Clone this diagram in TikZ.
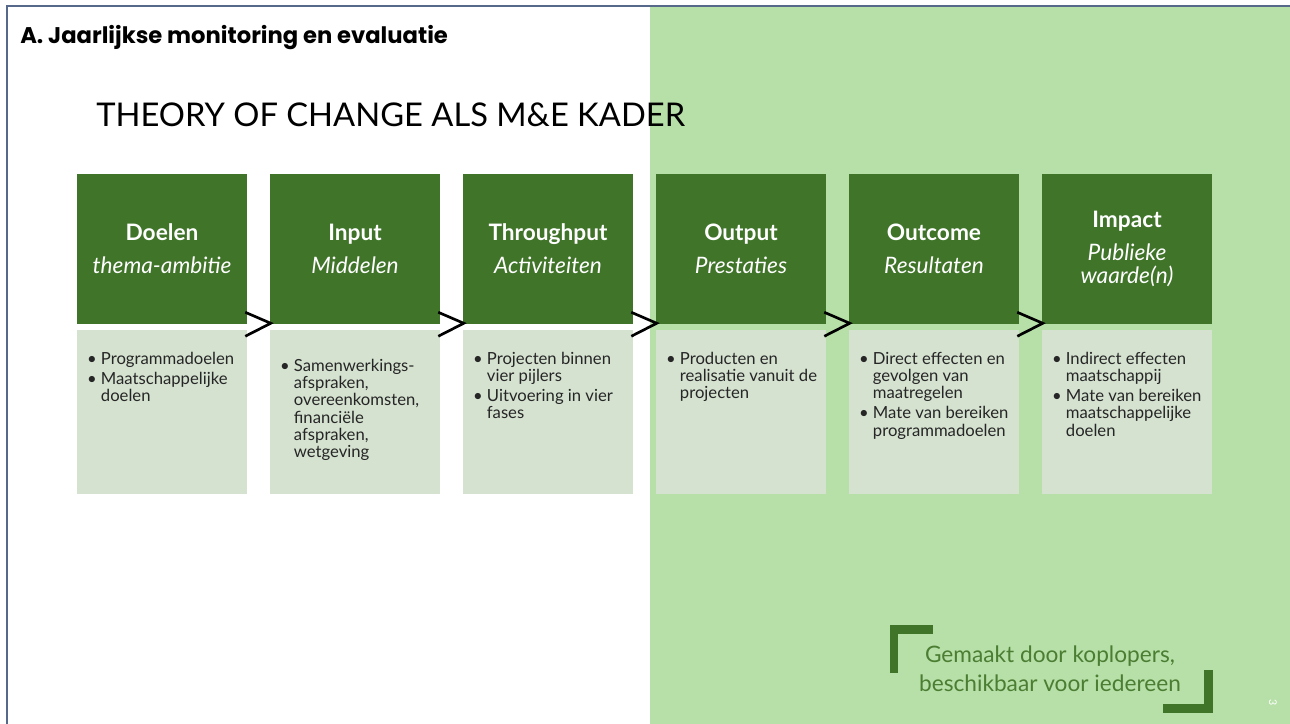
\documentclass[tikz,border=0pt]{standalone}
\usepackage{fontspec}
\setmainfont{Lato}
\newfontfamily\popp{Poppins}
\usetikzlibrary{calc}
\definecolor{dkgreen}{HTML}{3F7429}
\definecolor{ltbox}{HTML}{D5E2D0}
\definecolor{panel}{HTML}{B7E0A8}
\definecolor{bordercol}{HTML}{56698A}
\definecolor{quotegreen}{HTML}{4B7D33}
\tikzset{
  darkbox/.style={fill=dkgreen, minimum width=127.5pt, minimum height=112.5pt, inner sep=0pt, text=white, align=center, font=\fontsize{17}{17.3}\selectfont},
  lightbox/.style={fill=ltbox, minimum width=127.5pt, minimum height=123pt, inner sep=0pt},
  listtext/.style={anchor=north west, align=left, inner sep=0pt, text=black!85, font=\fontsize{12.5}{13}\selectfont},
  chev/.style={draw=black, line width=2pt},
  bracket/.style={fill=dkgreen, draw=none}
}
\newcommand{\bl}{\textbullet\ }
\newcommand{\bh}{\hphantom{\textbullet\ }}
\begin{document}
\begin{tikzpicture}[x=0.75pt,y=-0.75pt]
\useasboundingbox (0,0) rectangle (1290,724);
\fill[white] (0,0) rectangle (1290,724);
\fill[panel] (650,7) rectangle (1290,724);
\draw[bordercol, line width=1.5pt] (6.5,724) -- (6.5,6.5) -- (1290,6.5);

\node[anchor=base west, inner sep=0pt, font=\popp\fontsize{17}{19}\selectfont\bfseries] (head) at (20,44) {A. Jaarlijkse monitoring en evaluatie};
\node[anchor=west, inner sep=0pt, font=\fontsize{24.5}{28}\selectfont] (title) at (96,115) {THEORY OF CHANGE ALS M\&E KADER};

% dark boxes
\node[darkbox] (d1) at (162,249) {\textbf{Doelen}\\[7.5pt]\textit{thema-ambitie}};
\node[darkbox] (d2) at (355,249) {\textbf{Input}\\[7.5pt]\textit{Middelen}};
\node[darkbox] (d3) at (548,249) {\textbf{Throughput}\\[7.5pt]\textit{Activiteiten}};
\node[darkbox] (d4) at (741,249) {\textbf{Output}\\[7.5pt]\textit{Prestaties}};
\node[darkbox] (d5) at (934,249) {\textbf{Outcome}\\[7.5pt]\textit{Resultaten}};
\node[darkbox] (d6) at (1127,249) {\textbf{Impact}\\[7.5pt]\textit{Publieke}\\\textit{waarde(n)}};

% light boxes
\node[lightbox] (l1) at (162,412) {};
\node[lightbox] (l2) at (355,412) {};
\node[lightbox] (l3) at (548,412) {};
\node[lightbox] (l4) at (741,412) {};
\node[lightbox] (l5) at (934,412) {};
\node[lightbox] (l6) at (1127,412) {};

\node[listtext] (t1) at ($(l1.north west)+(10,22)$) {\bl Programmadoelen\\[2pt]\bl Maatschappelijke\\\bh doelen};
\node[listtext] (t2) at ($(l2.north west)+(10,29)$) {\bl Samenwerkings-\\\bh afspraken,\\\bh overeenkomsten,\\\bh financiële\\\bh afspraken,\\\bh wetgeving};
\node[listtext] (t3) at ($(l3.north west)+(10,22)$) {\bl Projecten binnen\\\bh vier pijlers\\[2pt]\bl Uitvoering in vier\\\bh fases};
\node[listtext] (t4) at ($(l4.north west)+(10,22)$) {\bl Producten en\\\bh realisatie vanuit de\\\bh projecten};
\node[listtext] (t5) at ($(l5.north west)+(10,22)$) {\bl Direct effecten en\\\bh gevolgen van\\\bh maatregelen\\[2pt]\bl Mate van bereiken\\\bh programmadoelen};
\node[listtext] (t6) at ($(l6.north west)+(10,22)$) {\bl Indirect effecten\\\bh maatschappij\\[2pt]\bl Mate van bereiken\\\bh maatschappelijke\\\bh doelen};

% chevrons
\foreach \a/\b in {d1/d2,d2/d3,d3/d4,d4/d5,d5/d6}{
  \draw[chev] ($(\a.south east)+(-2,-12)$) -- ($(\b.south west)+(1,-1)$) -- ($(\a.south east)+(-2,12)$);
}

% quote
\node[align=center, inner sep=0pt, text=quotegreen, font=\fontsize{17}{22}\selectfont] (quote) at (1050,669) {Gemaakt door koplopers,\\beschikbaar voor iedereen};
\fill[bracket] (890,625) rectangle (898,673);
\fill[bracket] (890,625) rectangle (933,634);
\fill[bracket] (1204,670) rectangle (1213,713);
\fill[bracket] (1163,704) rectangle (1213,713);

\node[rotate=-90, text=white, inner sep=0pt, font=\fontsize{8}{9}\selectfont] (pagenum) at (1273,703) {3};
\end{tikzpicture}
\end{document}
